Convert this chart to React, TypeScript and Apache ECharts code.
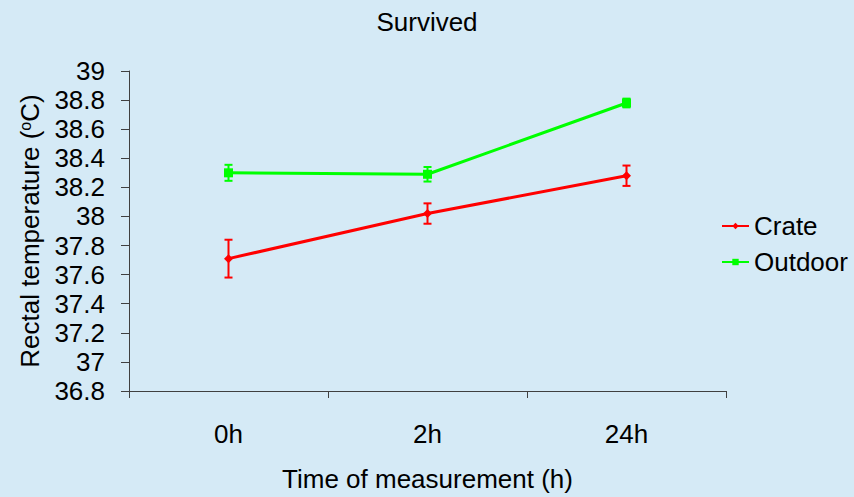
import React, { useEffect, useRef } from "react";
import * as echarts from "echarts";

const categories = ["0h", "2h", "24h"];
const crateMean = [37.71, 38.02, 38.28];
const crateErr = [0.13, 0.07, 0.07];
const outdoorMean = [38.3, 38.29, 38.78];
const outdoorErr = [0.055, 0.05, 0.03];
const yTicks = [36.8, 37, 37.2, 37.4, 37.6, 37.8, 38, 38.2, 38.4, 38.6, 38.8, 39];

const FONT = "Liberation Sans, Arial, sans-serif";
const FS = 26;

function errorSeries(name: string, means: number[], errs: number[], color: string) {
  return {
    type: "custom",
    name: name + "-err",
    silent: true,
    z: 1,
    data: means.map((m, i) => [i, m - errs[i], m + errs[i]]),
    renderItem: (params: any, api: any) => {
      const x = api.value(0);
      const lo = api.coord([x, api.value(1)]);
      const hi = api.coord([x, api.value(2)]);
      const hw = 4;
      const style = { stroke: color, lineWidth: 2 };
      return {
        type: "group",
        children: [
          { type: "line", shape: { x1: lo[0], y1: lo[1], x2: hi[0], y2: hi[1] }, style },
          { type: "line", shape: { x1: lo[0] - hw, y1: lo[1], x2: lo[0] + hw, y2: lo[1] }, style },
          { type: "line", shape: { x1: hi[0] - hw, y1: hi[1], x2: hi[0] + hw, y2: hi[1] }, style },
        ],
      };
    },
  };
}

export default function App() {
  const ref = useRef<HTMLDivElement>(null);
  useEffect(() => {
    const chart = echarts.init(ref.current!, null, { renderer: "svg" });
    chart.setOption({
      animation: false,
      backgroundColor: "#D5EAF6",
      title: {
        text: "Survived",
        left: "center",
        top: 4,
        textStyle: { fontFamily: FONT, fontSize: FS, fontWeight: "normal", color: "#000" },
      },
      legend: {
        orient: "vertical",
        left: 716,
        top: 208,
        itemWidth: 27,
        itemHeight: 8,
        itemGap: 10,
        textStyle: { fontFamily: FONT, fontSize: FS, color: "#000" },
        data: ["Crate", "Outdoor"],
      },
      grid: { left: 129, right: 128, top: 71, bottom: 104, containLabel: false },
      xAxis: {
        type: "category",
        data: categories,
        boundaryGap: true,
        axisLine: { lineStyle: { color: "#404040", width: 1 } },
        axisTick: { show: true, length: 7, lineStyle: { color: "#404040" } },
        axisLabel: { fontFamily: FONT, fontSize: FS, color: "#000", margin: 30 },
        name: "Time of measurement (h)",
        nameLocation: "middle",
        nameGap: 75,
        nameTextStyle: { fontFamily: FONT, fontSize: FS, color: "#000" },
      },
      yAxis: {
        type: "value",
        min: 36.8,
        max: 39,
        interval: 0.2,
        splitLine: { show: false },
        axisLine: { show: true, lineStyle: { color: "#404040", width: 1 } },
        axisTick: { show: true, inside: false, length: 8, lineStyle: { color: "#404040" } },
        axisLabel: {
          fontFamily: FONT,
          fontSize: FS,
          color: "#000",
          margin: 24,
          formatter: (v: number) => {
            const t = yTicks.find((y) => Math.abs(y - v) < 1e-6);
            return t === undefined ? "" : String(parseFloat(t.toFixed(1)));
          },
        },
        name: "{a|Rectal temperature (}{s|o}{a|C)}",
        nameLocation: "middle",
        nameGap: 76,
        nameRotate: 90,
        nameTextStyle: {
          fontFamily: FONT,
          fontSize: FS,
          color: "#000",
          rich: {
            a: { fontFamily: FONT, fontSize: FS, color: "#000" },
            s: { fontFamily: FONT, fontSize: 16, color: "#000", verticalAlign: "top", lineHeight: 26 },
          },
        },
      },
      series: [
        errorSeries("Crate", crateMean, crateErr, "#FF0000"),
        errorSeries("Outdoor", outdoorMean, outdoorErr, "#00FF00"),
        {
          type: "line",
          name: "Crate",
          data: crateMean,
          symbol: "diamond",
          symbolSize: 9,
          z: 3,
          lineStyle: { color: "#FF0000", width: 3 },
          itemStyle: { color: "#FF0000" },
        },
        {
          type: "line",
          name: "Outdoor",
          data: outdoorMean,
          symbol: "rect",
          symbolSize: 9,
          z: 3,
          lineStyle: { color: "#00FF00", width: 3 },
          itemStyle: { color: "#00FF00" },
        },
      ],
    });
    return () => chart.dispose();
  }, []);
  return <div ref={ref} style={{ width: 854, height: 497, position: "absolute", left: 0, top: 0 }} />;
}
